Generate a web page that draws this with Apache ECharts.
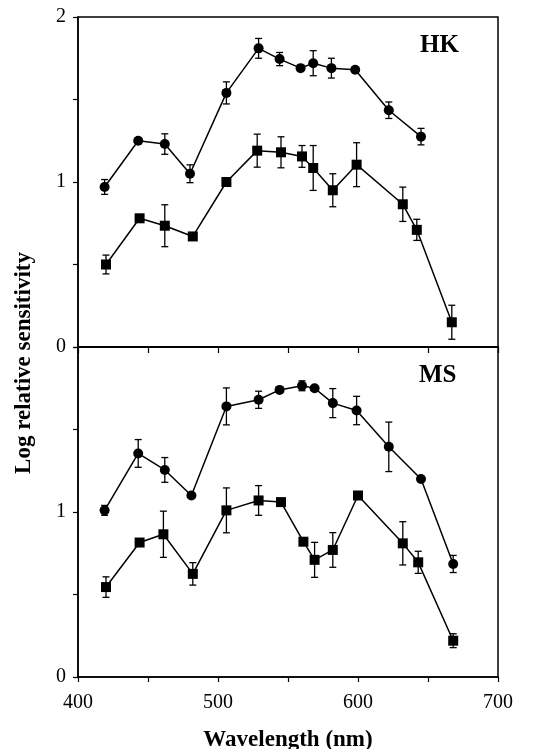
<!DOCTYPE html>
<html>
<head>
<meta charset="utf-8">
<script src="https://cdn.jsdelivr.net/npm/echarts@6/dist/echarts.min.js"></script>
<style>
html,body{margin:0;padding:0;background:#fff;}
#chart{width:533px;height:749px;}
</style>
</head>
<body>
<div id="chart"></div>
<script>
// HK panel
const hkCircleX = [419, 443, 462, 480, 506, 529, 544, 559, 568, 581, 598, 622, 645];
const hkCircleY = [0.97, 1.25, 1.23, 1.05, 1.54, 1.81, 1.745, 1.69, 1.72, 1.69, 1.68, 1.435, 1.275];
const hkCircleErr = [0.045, 0, 0.062, 0.054, 0.067, 0.06, 0.04, 0, 0.076, 0.06, 0, 0.05, 0.05];

const hkSquareX = [420, 444, 462, 482, 506, 528, 545, 560, 568, 582, 599, 632, 642, 667];
const hkSquareY = [0.50, 0.78, 0.735, 0.67, 1.0, 1.19, 1.18, 1.155, 1.085, 0.95, 1.105, 0.865, 0.71, 0.15];
const hkSquareErr = [0.057, 0, 0.127, 0, 0, 0.1, 0.094, 0.066, 0.136, 0.1, 0.133, 0.104, 0.064, 0.103];

// MS panel
const msCircleX = [419, 443, 462, 481, 506, 529, 544, 560, 569, 582, 599, 622, 645, 668];
const msCircleY = [1.01, 1.355, 1.255, 1.10, 1.64, 1.68, 1.74, 1.765, 1.75, 1.66, 1.615, 1.395, 1.20, 0.685];
const msCircleErr = [0.03, 0.084, 0.075, 0, 0.112, 0.052, 0, 0.03, 0, 0.088, 0.086, 0.15, 0, 0.052];

const msSquareX = [420, 444, 461, 482, 506, 529, 545, 561, 569, 582, 600, 632, 643, 668];
const msSquareY = [0.545, 0.815, 0.865, 0.625, 1.01, 1.07, 1.06, 0.82, 0.71, 0.77, 1.10, 0.81, 0.695, 0.22];
const msSquareErr = [0.062, 0, 0.14, 0.068, 0.136, 0.09, 0, 0, 0.106, 0.105, 0, 0.131, 0.067, 0.042];

const panelNames = ['HK', 'MS'];
const xTickLabels = [400, 500, 600, 700];
const yTickLabelsTop = [0, 1, 2];
const yTickLabelsBottom = [0, 1];

const FONT = '"Liberation Serif", "Times New Roman", serif';

function pts(xs, ys) { return xs.map((x, i) => [x, ys[i]]); }
function errs(xs, ys, es) {
  const out = [];
  xs.forEach((x, i) => { if (es[i] > 0) out.push([x, ys[i] - es[i], ys[i] + es[i]]); });
  return out;
}
function errRender(params, api) {
  const x = api.value(0), lo = api.value(1), hi = api.value(2);
  const a = api.coord([x, lo]), b = api.coord([x, hi]);
  const w = 3.5;
  const st = { stroke: '#000', lineWidth: 1.3 };
  return {
    type: 'group',
    children: [
      { type: 'line', shape: { x1: a[0], y1: a[1], x2: b[0], y2: b[1] }, style: st },
      { type: 'line', shape: { x1: a[0] - w, y1: a[1], x2: a[0] + w, y2: a[1] }, style: st },
      { type: 'line', shape: { x1: b[0] - w, y1: b[1], x2: b[0] + w, y2: b[1] }, style: st }
    ]
  };
}
function lineSeries(idx, data, symbol) {
  return {
    type: 'line', xAxisIndex: idx, yAxisIndex: idx, data: data,
    symbol: symbol, symbolSize: 10, z: 3,
    itemStyle: { color: '#000' },
    lineStyle: { color: '#000', width: 1.5 },
    animation: false
  };
}
function errSeries(idx, data) {
  return { type: 'custom', xAxisIndex: idx, yAxisIndex: idx, data: data, renderItem: errRender, z: 2, animation: false };
}

const chart = echarts.init(document.getElementById('chart'), null, { renderer: 'canvas' });

function yAxisCfg(idx, labels) {
  return {
    type: 'value', gridIndex: idx, min: 0, max: 2, interval: 0.5,
    axisLine: { show: true, lineStyle: { color: '#000', width: 1.5 } },
    axisTick: { show: true, inside: false, length: 5, lineStyle: { color: '#000', width: 1.2 } },
    splitLine: { show: false },
    axisLabel: {
      color: '#000', fontFamily: FONT, fontSize: 20, margin: 12,
      formatter: v => (labels.indexOf(v) >= 0 ? String(v) : '')
    }
  };
}

chart.setOption({
  backgroundColor: '#fff',
  animation: false,
  grid: [
    { left: 78, top: 17, width: 420, height: 330, show: true, borderColor: '#000', borderWidth: 1.5, backgroundColor: 'transparent', containLabel: false, outerBoundsMode: 'none' },
    { left: 78, top: 347, width: 420, height: 330, show: true, borderColor: '#000', borderWidth: 1.5, backgroundColor: 'transparent', containLabel: false, outerBoundsMode: 'none' }
  ],
  xAxis: [
    {
      type: 'value', gridIndex: 0, min: 400, max: 700, interval: 50,
      axisLine: { show: true, lineStyle: { color: '#000', width: 1.5 } },
      axisTick: { show: true, inside: false, length: 6, lineStyle: { color: '#000', width: 1.2 } },
      axisLabel: { show: false },
      splitLine: { show: false }
    },
    {
      type: 'value', gridIndex: 1, min: 400, max: 700, interval: 50,
      axisLine: { show: true, lineStyle: { color: '#000', width: 1.5 } },
      axisTick: { show: true, inside: false, length: 5, lineStyle: { color: '#000', width: 1.2 } },
      splitLine: { show: false },
      axisLabel: {
        color: '#000', fontFamily: FONT, fontSize: 20, margin: 16,
        formatter: v => (xTickLabels.indexOf(v) >= 0 ? String(v) : '')
      },
      name: 'Wavelength (nm)', nameLocation: 'middle', nameGap: 52,
      nameTextStyle: { color: '#000', fontFamily: FONT, fontSize: 23, fontWeight: 'bold' }
    }
  ],
  yAxis: [yAxisCfg(0, yTickLabelsTop), yAxisCfg(1, yTickLabelsBottom)],
  graphic: [
    { type: 'text', left: 420, top: 33, style: { text: panelNames[0], font: 'bold 25px ' + FONT, fill: '#000' } },
    { type: 'text', left: 419, top: 363, style: { text: panelNames[1], font: 'bold 25px ' + FONT, fill: '#000' } },
    { type: 'text', x: 24, y: 363, rotation: Math.PI / 2,
      style: { text: 'Log relative sensitivity', font: 'bold 23px ' + FONT, fill: '#000', align: 'center', verticalAlign: 'middle' } }
  ],
  series: [
    errSeries(0, errs(hkCircleX, hkCircleY, hkCircleErr)),
    errSeries(0, errs(hkSquareX, hkSquareY, hkSquareErr)),
    lineSeries(0, pts(hkCircleX, hkCircleY), 'circle'),
    lineSeries(0, pts(hkSquareX, hkSquareY), 'rect'),
    errSeries(1, errs(msCircleX, msCircleY, msCircleErr)),
    errSeries(1, errs(msSquareX, msSquareY, msSquareErr)),
    lineSeries(1, pts(msCircleX, msCircleY), 'circle'),
    lineSeries(1, pts(msSquareX, msSquareY), 'rect')
  ]
});
</script>
</body>
</html>
